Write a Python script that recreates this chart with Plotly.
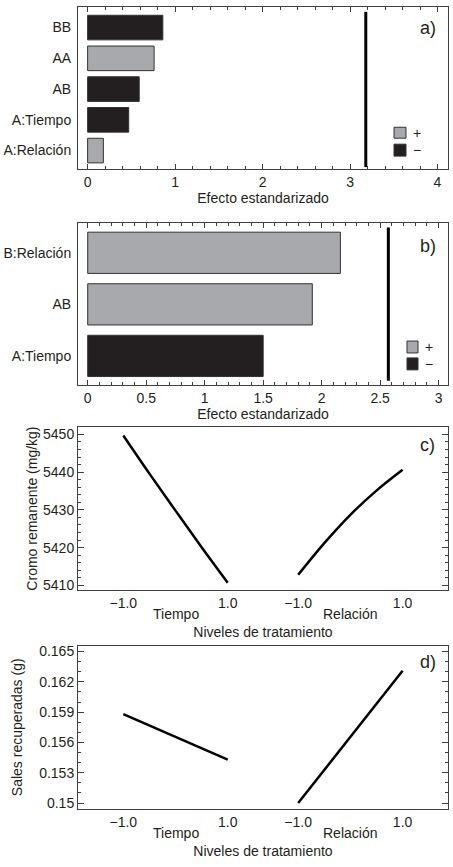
import plotly.graph_objects as go

# a) Efectos estandarizados (cromo remanente)
terms_a = ["A:Relación", "A:Tiempo", "AB", "AA", "BB"]
effects_a = [0.18, 0.47, 0.59, 0.76, 0.86]
signs_a = ["+", "-", "-", "+", "-"]
crit_a = 3.18

# b) Efectos estandarizados (sales recuperadas)
terms_b = ["A:Tiempo", "AB", "B:Relación"]
effects_b = [1.50, 1.92, 2.16]
signs_b = ["-", "+", "+"]
crit_b = 2.57

# c) Efectos principales - cromo remanente (mg/kg)
levels_c = [-1.0, -0.5, 0.0, 0.5, 1.0]
cromo_tiempo = [5449.7, 5439.6, 5429.8, 5420.1, 5410.7]
cromo_relacion = [5412.8, 5421.2, 5428.7, 5435.1, 5440.6]

# d) Efectos principales - sales recuperadas (g)
levels_d = [-1.0, 1.0]
sales_tiempo = [0.1588, 0.1543]
sales_relacion = [0.1500, 0.1631]

factors = ["Tiempo", "Relación"]
level_labels = ["−1.0", "1.0"]

W, H = 453, 867
GRAY = "#a7a9ac"
BLACK = "#231f20"
FRAME = "#3f3f3f"
TXT = "#231f20"
GAP = 3.35  # separation between factor blocks on the x axis


def px(x):
    return x / W


def py(y):
    return 1 - y / H


fig = go.Figure()

# bar panels
for terms, effects, signs, xa, ya in [(terms_a, effects_a, signs_a, "x", "y"),
                                      (terms_b, effects_b, signs_b, "x2", "y2")]:
    fig.add_trace(go.Bar(
        x=effects, y=terms, orientation="h", width=0.8,
        marker=dict(color=[GRAY if s == "+" else BLACK for s in signs],
                    line=dict(color="#333333", width=1)),
        xaxis=xa, yaxis=ya, showlegend=False
    ))

# critical value lines
fig.add_shape(type="line", xref="x", yref="y domain", x0=crit_a, x1=crit_a,
              y0=0.012, y1=0.97, line=dict(color="black", width=3))
fig.add_shape(type="line", xref="x2", yref="y2 domain", x0=crit_b, x1=crit_b,
              y0=0.025, y1=0.975, line=dict(color="black", width=3))

# main effects lines
line_style = dict(color="black", width=2.5, shape="spline")
fig.add_trace(go.Scatter(x=levels_c, y=cromo_tiempo, mode="lines", line=line_style,
                         xaxis="x3", yaxis="y3", showlegend=False))
fig.add_trace(go.Scatter(x=[v + GAP for v in levels_c], y=cromo_relacion, mode="lines",
                         line=line_style, xaxis="x3", yaxis="y3", showlegend=False))
fig.add_trace(go.Scatter(x=levels_d, y=sales_tiempo, mode="lines", line=line_style,
                         xaxis="x4", yaxis="y4", showlegend=False))
fig.add_trace(go.Scatter(x=[v + GAP for v in levels_d], y=sales_relacion, mode="lines",
                         line=line_style, xaxis="x4", yaxis="y4", showlegend=False))

font = dict(family="Liberation Sans, Arial, sans-serif", size=14, color=TXT)
xdom = [px(78), px(448)]
frame = dict(showline=True, linecolor=FRAME, linewidth=1, mirror="ticks",
             showgrid=False, zeroline=False, tickcolor=FRAME, tickfont=font)

level_ticks = [-1, 1, -1 + GAP, 1 + GAP]

fig.update_layout(
    width=W, height=H,
    margin=dict(l=0, r=0, t=0, b=0),
    paper_bgcolor="white", plot_bgcolor="white",
    font=font,
    bargap=0.2,
    xaxis=dict(frame, domain=xdom, anchor="y", range=[-0.11, 4.12], dtick=1, tick0=0,
               ticks="inside", ticklen=5,
               minor=dict(dtick=0.2, ticks="inside", ticklen=3, tickcolor=FRAME),
               title=dict(text="Efecto estandarizado", font=font, standoff=1)),
    yaxis=dict(frame, domain=[py(168), py(5)], anchor="x", range=[-0.6, 4.67], ticks="",
               ticklabelstandoff=3),
    xaxis2=dict(frame, domain=xdom, anchor="y2", range=[-0.083, 3.08], dtick=0.5, tick0=0,
                ticks="inside", ticklen=5,
                minor=dict(dtick=0.1, ticks="inside", ticklen=3, tickcolor=FRAME),
                title=dict(text="Efecto estandarizado", font=font, standoff=1)),
    yaxis2=dict(frame, domain=[py(385), py(222.7)], anchor="x2", range=[-0.56, 2.57], ticks="",
                ticklabelstandoff=3),
    xaxis3=dict(frame, domain=xdom, anchor="y3", range=[-1.868, 5.22], ticks="",
                tickvals=level_ticks, ticktext=level_labels * 2,
                title=dict(text="Niveles de tratamiento", font=font, standoff=17)),
    yaxis3=dict(frame, domain=[py(591.7), py(427.3)], anchor="x3", range=[5408.7, 5452.0],
                dtick=10, tick0=5410, ticks="inside", ticklen=6,
                minor=dict(dtick=2, ticks="inside", ticklen=3, tickcolor=FRAME),
                title=dict(text="Cromo remanente (mg/kg)", font=font, standoff=2)),
    xaxis4=dict(frame, domain=xdom, anchor="y4", range=[-1.868, 5.22], ticks="",
                tickvals=level_ticks, ticktext=level_labels * 2,
                title=dict(text="Niveles de tratamiento", font=font, standoff=17)),
    yaxis4=dict(frame, domain=[py(811.7), py(647.3)], anchor="x4", range=[0.14941, 0.16559],
                dtick=0.003, tick0=0.15, ticks="inside", ticklen=6,
                minor=dict(dtick=0.001, ticks="inside", ticklen=3, tickcolor=FRAME),
                title=dict(text="Sales recuperadas (g)", font=font, standoff=13)),
)

# legends (+ / −) as swatches
for (x0, x1, yg0, yg1, yb0, yb1, xt) in [(394, 406, 126, 137, 143, 155, 411),
                                         (407, 418, 341, 353, 358, 370, 423)]:
    fig.add_shape(type="rect", xref="paper", yref="paper", x0=px(x0), x1=px(x1),
                  y0=py(yg1), y1=py(yg0), fillcolor=GRAY, line=dict(color="#333333", width=1))
    fig.add_shape(type="rect", xref="paper", yref="paper", x0=px(x0), x1=px(x1),
                  y0=py(yb1), y1=py(yb0), fillcolor=BLACK, line=dict(color="#333333", width=1))
    fig.add_annotation(text="+", xref="paper", yref="paper", x=px(xt), y=py((yg0 + yg1) / 2),
                       xanchor="left", yanchor="middle", showarrow=False, font=dict(font, size=14))
    fig.add_annotation(text="−", xref="paper", yref="paper", x=px(xt), y=py((yb0 + yb1) / 2),
                       xanchor="left", yanchor="middle", showarrow=False, font=dict(font, size=14))

# panel labels
for lab, x, y in [("a)", 428, 26), ("b)", 428, 245), ("c)", 427, 446), ("d)", 428, 664)]:
    fig.add_annotation(text=lab, xref="paper", yref="paper", x=px(x), y=py(y),
                       xanchor="center", yanchor="middle", showarrow=False,
                       font=dict(font, size=18))

# factor names under the level ticks
for xa, y in [("x3", 616), ("x4", 836)]:
    for i, name in enumerate(factors):
        fig.add_annotation(text=name, xref=xa, yref="paper", x=i * GAP, y=py(y),
                           xanchor="center", yanchor="middle", showarrow=False, font=font)

fig.write_html("out.html", config={"displayModeBar": False},
               post_script="document.body.style.margin='0';document.body.style.overflow='hidden';")
